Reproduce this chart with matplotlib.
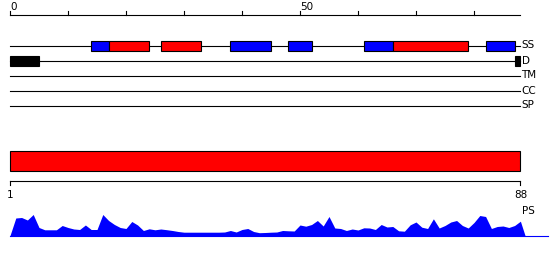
import matplotlib
matplotlib.use('Agg')
import matplotlib.pyplot as plt
from matplotlib.patches import Rectangle

# sequence length and secondary structure (1-based residue ranges)
seq_len = 88
strands = [(15, 17), (39, 45), (49, 52), (62, 66), (83, 87)]
helices = [(18, 24), (27, 33), (67, 79)]
disorder = [(1, 5), (88, 88)]
domains = [(1, 88)]
track_labels = ['SS', 'D', 'TM', 'CC', 'SP']
ruler_labels = {0: '0', 50: '50'}

# per-residue profile heights (PS track)
ps = [17.5, 18, 15.5, 21, 8, 5.7, 5.7, 5.7, 10, 8,
      6.5, 6, 10.5, 6, 6, 21, 15, 11, 8, 7,
      14, 10.5, 5, 6.7, 5.7, 6.5, 5.8, 5, 4, 3.3,
      3.3, 3.3, 3.3, 3.3, 3.3, 3.3, 3.5, 5, 3.5, 6,
      7, 4, 2.8, 3, 3.3, 3.5, 5, 4.7, 4.5, 10.5,
      9.3, 11, 15, 9.5, 19, 7.5, 7, 5, 6.5, 5.5,
      7.7, 7.5, 6, 11, 8.5, 9, 4.7, 4.3, 10.7, 13.5,
      8.3, 7, 16.7, 7.5, 10, 13.5, 15, 10, 7.5, 13,
      20, 19, 7, 9, 9.5, 8, 10, 14.3]

BLUE = '#0000ff'
RED = '#ff0000'
FS = 7.5
LW = 0.8

# layout: x in residues (0 at 10px, 5.8px per residue), y in pixel rows
px0, ppr = 10, 5.8
fig = plt.figure(figsize=(5.5, 2.6), dpi=100)
ax = fig.add_axes([0, 0, 1, 1])
ax.set_xlim(-px0 / ppr, (550 - px0) / ppr)
ax.set_ylim(260, 0)
ax.axis('off')

# top ruler
ruler_y = 14.5
ax.plot([0, seq_len], [ruler_y, ruler_y], color='black', lw=LW)
for t in range(0, seq_len, 10):
    ax.plot([t, t], [ruler_y, ruler_y - 4], color='black', lw=LW)
    if t in ruler_labels:
        ax.text(t, 7, ruler_labels[t], ha='left', va='center', fontsize=FS)

# tracks
rows = [45.5, 60.5, 75.5, 90.5, 105.5]
for y, lab in zip(rows, track_labels):
    ax.plot([0, seq_len], [y, y], color='black', lw=LW, zorder=1)
    ax.text(seq_len + 0.2, y, lab, ha='left', va='center', fontsize=FS)

def boxes(ranges, y, color, h=10):
    for s, e in ranges:
        ax.add_patch(Rectangle((s - 1, y - h / 2), e - s + 1, h, facecolor=color,
                               edgecolor='black', lw=LW, zorder=2))

boxes(strands, rows[0], BLUE)
boxes(helices, rows[0], RED)
boxes(disorder, rows[1], 'black')
boxes(domains, 160.5, RED, h=20)

# bottom ruler
r2 = 180.5
ax.plot([0, seq_len], [r2, r2], color='black', lw=LW)
for t, lab in [(0, '1'), (seq_len, str(seq_len))]:
    ax.plot([t, t], [r2, r2 + 4], color='black', lw=LW)
    ax.text(t, 195, lab, ha='center', va='center', fontsize=FS)

# profile
base = 235.5
xs = [0] + list(range(1, seq_len + 1)) + [seq_len + 0.8]
hs = [0] + ps + [0]
ax.fill_between(xs, base, [base - h for h in hs], color=BLUE, lw=0)
ax.plot([0, (548 - px0) / ppr], [base, base], color=BLUE, lw=LW)
ax.text(seq_len + 0.2, 211, 'PS', ha='left', va='center', fontsize=FS)

fig.savefig('out.png', dpi=100)
